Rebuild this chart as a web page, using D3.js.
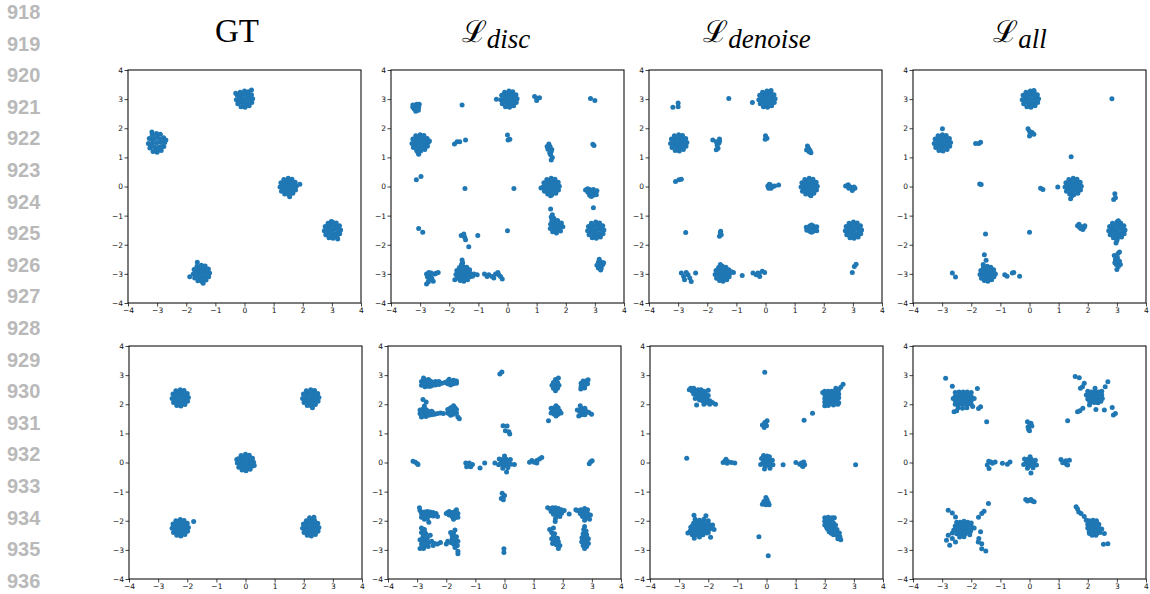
<!DOCTYPE html>
<html>
<head>
<meta charset="utf-8">
<script src="https://d3js.org/d3.v7.min.js"></script>
<style>
  body { margin: 0; background: #fff; }
  .ln { font-family: "Liberation Sans", Arial, sans-serif; font-weight: bold; font-size: 20px; fill: #b9b9b9; }
  .axis text { font-family: "DejaVu Sans", sans-serif; font-size: 7.5px; fill: #111; }
  .axis line { stroke: #111; stroke-width: 0.8; }
</style>
</head>
<body>
<script>
// margin line numbers
const lineNums = [918,919,920,921,922,923,924,925,926,927,928,929,930,931,932,933,934,935,936];
const ticks = [-4,-3,-2,-1,0,1,2,3,4];
const titleMain = ["GT", "\u2112", "\u2112", "\u2112"];
const titleSub = ["", "disc", "denoise", "all"];

// ---- top row: 5 modes ----
const gtTop = [
  [0,3],[0.14,3.02],[0.07,3.13],[-0.08,3.12],[-0.14,2.99],[-0.06,2.87],[0.08,2.88],[0.28,3.01],[0.24,3.15],[0.13,3.25],[0,3.28],[-0.15,3.24],[-0.25,3.13],[-0.28,2.98],[-0.23,2.84],[-0.12,2.74],[0.02,2.72],[0.16,2.77],[0.25,2.88],[0.24,3.31],[-0.3,3.2],
  [0.19,3.11],[0,3.21],[-0.19,3.11],[-0.19,2.89],[0,2.79],[0.19,2.89],
  [-3.02,1.5],[-2.88,1.52],[-2.95,1.65],[-3.1,1.64],[-3.16,1.49],[-3.08,1.35],[-2.94,1.36],[-2.74,1.51],[-2.78,1.67],[-2.89,1.79],[-3.02,1.82],[-3.17,1.78],[-3.27,1.65],[-3.3,1.48],[-3.25,1.32],[-3.14,1.2],[-3,1.18],[-2.86,1.24],[-2.77,1.37],[-3.18,1.87],[-2.7,1.6],
  [-2.83,1.63],[-3.02,1.74],[-3.21,1.63],[-3.21,1.37],[-3.02,1.26],[-2.83,1.37],
  [1.5,0],[1.64,0.02],[1.57,0.13],[1.42,0.12],[1.36,-0.01],[1.44,-0.13],[1.58,-0.12],[1.78,0.01],[1.74,0.15],[1.63,0.25],[1.5,0.28],[1.35,0.24],[1.25,0.13],[1.22,-0.02],[1.27,-0.16],[1.38,-0.26],[1.52,-0.28],[1.66,-0.23],[1.75,-0.12],[1.9,0.08],[1.55,-0.35],
  [1.69,0.11],[1.5,0.21],[1.31,0.11],[1.31,-0.11],[1.5,-0.21],[1.69,-0.11],
  [3.02,-1.5],[3.16,-1.48],[3.09,-1.37],[2.94,-1.38],[2.88,-1.51],[2.96,-1.63],[3.1,-1.62],[3.3,-1.49],[3.26,-1.35],[3.15,-1.25],[3.02,-1.22],[2.87,-1.26],[2.77,-1.37],[2.74,-1.52],[2.79,-1.66],[2.9,-1.76],[3.04,-1.78],[3.18,-1.73],[3.27,-1.62],[3.2,-1.8],[2.98,-1.2],
  [3.21,-1.39],[3.02,-1.29],[2.83,-1.39],[2.83,-1.61],[3.02,-1.71],[3.21,-1.61],
  [-1.48,-2.98],[-1.34,-2.96],[-1.41,-2.85],[-1.56,-2.86],[-1.62,-2.99],[-1.54,-3.11],[-1.4,-3.1],[-1.2,-2.97],[-1.24,-2.83],[-1.35,-2.73],[-1.48,-2.7],[-1.63,-2.74],[-1.73,-2.85],[-1.76,-3],[-1.71,-3.14],[-1.6,-3.24],[-1.46,-3.26],[-1.32,-3.21],[-1.23,-3.1],[-1.62,-2.6],[-1.88,-3.1],[-1.42,-3.32],
  [-1.29,-2.87],[-1.48,-2.77],[-1.67,-2.87],[-1.67,-3.09],[-1.48,-3.19],[-1.29,-3.09]
];

const discTop = [
  [-3.25,2.72],[-3.15,2.75],[-3.05,2.72],[-3.2,2.66],[-3.1,2.65],[-3.15,2.58],[-3.03,2.82],[-3.25,2.8],[-3.12,2.82],[-3.06,2.62],
  [-3,1.5],[-2.86,1.52],[-2.93,1.63],[-3.08,1.62],[-3.14,1.49],[-3.06,1.37],[-2.92,1.38],[-2.72,1.51],[-2.76,1.65],[-2.87,1.75],[-3,1.78],[-3.15,1.74],[-3.25,1.63],[-3.28,1.48],[-3.23,1.34],[-3.12,1.24],[-2.98,1.22],[-2.84,1.27],[-2.75,1.38],[-3.05,1.11],[-2.68,1.56],[-3.08,1.18],
  [-2.81,1.61],[-3,1.71],[-3.19,1.61],[-3.19,1.39],[-3,1.29],[-2.81,1.39],
  [-3.13,0.23],[-2.97,0.34],[-3.05,-1.44],[-2.91,-1.57],
  [-2.78,-3],[-2.75,-3.1],[-2.7,-3.2],[-2.78,-3.35],[-2.65,-3.05],[-2.6,-3.15],[-2.55,-3.25],[-2.5,-3],[-2.45,-2.98],[-2.38,-2.95],[-2.62,-2.97],[-2.7,-2.95],[-2.72,-3.28],
  [-1.82,1.46],[-1.73,1.54],[-1.64,1.54],[-1.44,1.6],[-1.56,2.8],[-1.46,-0.07],
  [-1.59,-1.68],[-1.5,-1.63],[-1.47,-1.74],[-1.44,-1.83],[-1.33,-2.07],[-1.02,-1.68],
  [-1.52,-3],[-1.39,-2.98],[-1.45,-2.88],[-1.59,-2.89],[-1.65,-3],[-1.57,-3.12],[-1.44,-3.11],[-1.27,-2.99],[-1.3,-2.86],[-1.4,-2.77],[-1.52,-2.75],[-1.65,-2.78],[-1.74,-2.88],[-1.77,-3.02],[-1.72,-3.15],[-1.62,-3.23],[-1.5,-3.25],[-1.37,-3.2],[-1.29,-3.1],[-1.56,-2.52],[-1.54,-2.62],[-1.58,-2.68],[-1.15,-3],[-1.04,-3.03],[-1.2,-3.08],[-1.81,-3.2],
  [-1.35,-2.9],[-1.52,-2.81],[-1.69,-2.9],[-1.69,-3.1],[-1.52,-3.19],[-1.35,-3.1],
  [-0.79,-3],[-0.64,-3.03],[-0.53,-3.09],[-0.41,-3],[-0.33,-2.95],[-0.24,-3.09],[-0.18,-3.18],[-0.47,-3.14],[-0.7,-3.09],[-0.3,-3.03],
  [0.05,3],[0.19,3.02],[0.12,3.13],[-0.03,3.12],[-0.09,2.99],[-0.01,2.87],[0.13,2.88],[0.33,3.01],[0.29,3.15],[0.18,3.25],[0.05,3.28],[-0.1,3.24],[-0.2,3.13],[-0.23,2.98],[-0.18,2.84],[-0.07,2.74],[0.07,2.72],[0.21,2.77],[0.3,2.88],[-0.38,3],
  [0.24,3.11],[0.05,3.21],[-0.14,3.11],[-0.14,2.89],[0.05,2.79],[0.24,2.89],
  [0.93,3.09],[1.02,3.03],[1.1,3.05],[1,2.95],
  [0,1.77],[0.02,1.6],[0.08,1.62],[0,-1.52],[0.22,-0.07],
  [1.42,1.46],[1.46,1.37],[1.39,1.28],[1.5,1.2],[1.48,1.09],[1.54,1],[1.5,0.91],[1.36,1.37],[1.45,1.15],[1.52,1.27],
  [1.5,0],[1.64,0.02],[1.57,0.13],[1.42,0.12],[1.36,-0.01],[1.44,-0.13],[1.58,-0.12],[1.78,0.01],[1.74,0.15],[1.63,0.25],[1.5,0.28],[1.35,0.24],[1.25,0.13],[1.22,-0.02],[1.27,-0.16],[1.38,-0.26],[1.52,-0.28],[1.66,-0.23],[1.75,-0.12],[1.15,-0.05],[1.48,-0.32],
  [1.69,0.11],[1.5,0.21],[1.31,0.11],[1.31,-0.11],[1.5,-0.21],[1.69,-0.11],
  [1.48,-0.77],
  [1.68,-1.38],[1.8,-1.37],[1.74,-1.27],[1.61,-1.28],[1.56,-1.39],[1.62,-1.49],[1.75,-1.48],[1.9,-1.38],[1.85,-1.25],[1.72,-1.17],[1.58,-1.2],[1.48,-1.3],[1.47,-1.44],[1.55,-1.55],[1.68,-1.6],[1.82,-1.53],[1.54,-0.97],[1.59,-1.09],[1.5,-1.05],[1.6,-1.15],[1.52,-1.18],
  [2.85,3.02],[3,2.95],[2.93,1.45],[2.97,1.41],
  [2.88,-0.2],[3,-0.2],[2.76,-0.2],[2.82,-0.1],[2.95,-0.1],[2.82,-0.3],[2.95,-0.3],[2.68,-0.12],[3.07,-0.15],[2.88,-0.34],[3.05,-0.28],[2.75,-0.08],
  [2.95,-0.73],
  [3.03,-1.5],[3.17,-1.48],[3.1,-1.37],[2.95,-1.38],[2.89,-1.51],[2.97,-1.63],[3.11,-1.62],[3.31,-1.49],[3.27,-1.35],[3.16,-1.25],[3.03,-1.22],[2.88,-1.26],[2.78,-1.37],[2.75,-1.52],[2.8,-1.66],[2.91,-1.76],[3.05,-1.78],[3.19,-1.73],[3.28,-1.62],
  [3.22,-1.39],[3.03,-1.29],[2.84,-1.39],[2.84,-1.61],[3.03,-1.71],[3.22,-1.61],
  [3.17,-2.7],[3.27,-2.68],[3.22,-2.6],[3.12,-2.6],[3.07,-2.7],[3.12,-2.8],[3.22,-2.8],[3.15,-2.5],[3.2,-2.87],[3.3,-2.62]
];

const denoiseTop = [
  [-3.18,2.72],[-3,2.87],[-3,2.74],
  [-2.98,1.5],[-2.84,1.52],[-2.91,1.63],[-3.06,1.62],[-3.12,1.49],[-3.04,1.37],[-2.9,1.38],[-2.7,1.51],[-2.74,1.65],[-2.85,1.75],[-2.98,1.78],[-3.13,1.74],[-3.23,1.63],[-3.26,1.48],[-3.21,1.34],[-3.1,1.24],[-2.96,1.22],[-2.82,1.27],[-2.73,1.38],
  [-2.79,1.61],[-2.98,1.71],[-3.17,1.61],[-3.17,1.39],[-2.98,1.29],[-2.79,1.39],
  [-3.09,0.17],[-2.97,0.23],[-2.89,0.25],[-2.74,-1.58],
  [-1.81,1.6],[-1.69,1.54],[-1.63,1.31],[-1.69,1.26],[-1.58,1.63],[-1.6,1.49],[-1.66,1.42],[-1.58,1.55],
  [-1.54,-1.54],[-1.52,-1.66],[-1.58,-1.71],[-1.55,-1.6],
  [-2.89,-2.97],[-2.81,-3.09],[-2.66,-3.03],[-2.78,-3.2],[-2.6,-3.14],[-2.55,-3.26],[-2.4,-2.97],[-2.72,-2.95],
  [-1.48,-3],[-1.35,-2.98],[-1.41,-2.88],[-1.55,-2.89],[-1.61,-3],[-1.53,-3.12],[-1.4,-3.11],[-1.23,-2.99],[-1.26,-2.86],[-1.36,-2.77],[-1.48,-2.74],[-1.61,-2.78],[-1.7,-2.88],[-1.73,-3.02],[-1.68,-3.15],[-1.58,-3.23],[-1.46,-3.25],[-1.33,-3.2],[-1.25,-3.1],[-1.1,-2.95],[-1.17,-2.93],[-1.55,-2.68],
  [-1.31,-2.9],[-1.48,-2.81],[-1.65,-2.9],[-1.65,-3.1],[-1.48,-3.19],[-1.31,-3.1],
  [-0.8,-3.06],[-1.26,3.02],[-0.45,2.88],
  [0.05,3],[0.19,3.02],[0.12,3.13],[-0.03,3.12],[-0.09,2.99],[-0.01,2.87],[0.13,2.88],[0.33,3.01],[0.29,3.15],[0.18,3.25],[0.05,3.28],[-0.1,3.24],[-0.2,3.13],[-0.23,2.98],[-0.18,2.84],[-0.07,2.74],[0.07,2.72],[0.21,2.77],[0.3,2.88],[0.19,3.3],
  [0.24,3.11],[0.05,3.21],[-0.14,3.11],[-0.14,2.89],[0.05,2.79],[0.24,2.89],
  [0,1.74],[0.05,1.66],[-0.01,1.62],
  [0.08,0.02],[0.16,0.06],[0.25,0],[0.19,-0.06],[0.11,-0.06],[0.31,0.02],[0.45,0.05],[0.13,0.08],[0.2,0.02],
  [-0.43,-2.97],[-0.32,-3.03],[-0.26,-2.97],[-0.2,-3.09],[-0.11,-2.91],[-0.03,-2.95],[-0.22,-3],
  [1.44,1.39],[1.41,1.25],[1.5,1.19],[1.56,1.16],[1.48,1.31],[1.53,1.24],
  [1.5,0],[1.64,0.02],[1.57,0.13],[1.42,0.12],[1.36,-0.01],[1.44,-0.13],[1.58,-0.12],[1.78,0.01],[1.74,0.15],[1.63,0.25],[1.5,0.28],[1.35,0.24],[1.25,0.13],[1.22,-0.02],[1.27,-0.16],[1.38,-0.26],[1.52,-0.28],[1.66,-0.23],[1.75,-0.12],[1.56,-0.32],
  [1.69,0.11],[1.5,0.21],[1.31,0.11],[1.31,-0.11],[1.5,-0.21],[1.69,-0.11],
  [1.58,-1.45],[1.7,-1.45],[1.46,-1.45],[1.52,-1.36],[1.64,-1.36],[1.52,-1.54],[1.64,-1.54],[1.76,-1.38],[1.4,-1.4],[1.76,-1.52],[1.58,-1.32],[1.58,-1.57],[1.42,-1.5],
  [2.75,0.02],[2.84,0.06],[2.92,-0.02],[3,-0.09],[3.07,-0.06],[2.98,-0.14],[2.86,-0.06],[3.04,-0.02],
  [3.02,-1.5],[3.16,-1.48],[3.09,-1.37],[2.94,-1.38],[2.88,-1.51],[2.96,-1.63],[3.1,-1.62],[3.3,-1.49],[3.26,-1.35],[3.15,-1.25],[3.02,-1.22],[2.87,-1.26],[2.77,-1.37],[2.74,-1.52],[2.79,-1.66],[2.9,-1.76],[3.04,-1.78],[3.18,-1.73],[3.27,-1.62],
  [3.21,-1.39],[3.02,-1.29],[2.83,-1.39],[2.83,-1.61],[3.02,-1.71],[3.21,-1.61],
  [2.98,-2.95],[3.05,-2.75],[3.11,-2.67]
];

const allTop = [
  [-2.99,1.98],
  [-2.99,1.5],[-2.85,1.52],[-2.92,1.63],[-3.07,1.62],[-3.13,1.49],[-3.05,1.37],[-2.91,1.38],[-2.71,1.51],[-2.75,1.65],[-2.86,1.75],[-2.99,1.78],[-3.14,1.74],[-3.24,1.63],[-3.27,1.48],[-3.22,1.34],[-3.11,1.24],[-2.97,1.22],[-2.83,1.27],[-2.74,1.38],
  [-2.8,1.61],[-2.99,1.71],[-3.18,1.61],[-3.18,1.39],[-2.99,1.29],[-2.8,1.39],
  [-1.85,1.48],[-1.68,1.52],[-1.74,1.48],[-1.71,0.09],[-1.66,0.07],[-1.51,-1.63],
  [-1.45,-3],[-1.32,-2.98],[-1.38,-2.88],[-1.52,-2.89],[-1.58,-3],[-1.5,-3.12],[-1.37,-3.11],[-1.2,-2.99],[-1.23,-2.86],[-1.33,-2.77],[-1.45,-2.74],[-1.58,-2.78],[-1.67,-2.88],[-1.7,-3.02],[-1.65,-3.15],[-1.55,-3.23],[-1.43,-3.25],[-1.3,-3.2],[-1.22,-3.1],[-1.55,-2.34],[-1.49,-2.53],[-1.59,-2.68],[-1.17,-3],
  [-1.28,-2.9],[-1.45,-2.81],[-1.62,-2.9],[-1.62,-3.1],[-1.45,-3.19],[-1.28,-3.1],
  [-2.65,-2.97],[-2.54,-3.11],
  [-0.85,-3.03],[-0.77,-3.08],[-0.59,-2.97],[-0.54,-2.95],[-0.34,-3.08],
  [0.03,3],[0.17,3.02],[0.1,3.13],[-0.05,3.12],[-0.11,2.99],[-0.03,2.87],[0.11,2.88],[0.31,3.01],[0.27,3.15],[0.16,3.25],[0.03,3.28],[-0.12,3.24],[-0.22,3.13],[-0.25,2.98],[-0.2,2.84],[-0.09,2.74],[0.05,2.72],[0.19,2.77],[0.28,2.88],[0.15,3.3],
  [0.22,3.11],[0.03,3.21],[-0.16,3.11],[-0.16,2.89],[0.03,2.79],[0.22,2.89],
  [-0.05,1.98],[0,1.9],[0.03,1.79],[0.09,1.85],[0.15,1.79],[0,1.73],
  [0,-1.57],[0.38,-0.06],[0.46,-0.1],[0.97,-0.02],[1.43,1.02],
  [1.5,0],[1.64,0.02],[1.57,0.13],[1.42,0.12],[1.36,-0.01],[1.44,-0.13],[1.58,-0.12],[1.78,0.01],[1.74,0.15],[1.63,0.25],[1.5,0.28],[1.35,0.24],[1.25,0.13],[1.22,-0.02],[1.27,-0.16],[1.38,-0.26],[1.52,-0.28],[1.66,-0.23],[1.75,-0.12],[1.41,-0.42],[1.45,-0.33],
  [1.69,0.11],[1.5,0.21],[1.31,0.11],[1.31,-0.11],[1.5,-0.21],[1.69,-0.11],
  [1.65,-1.35],[1.72,-1.4],[1.8,-1.38],[1.88,-1.4],[1.83,-1.48],[1.7,-1.3],[1.9,-1.35],[1.76,-1.44],
  [2.83,3.01],[2.93,-0.25],[2.89,-0.45],[2.95,-0.39],
  [3,-1.5],[3.14,-1.48],[3.07,-1.37],[2.92,-1.38],[2.86,-1.51],[2.94,-1.63],[3.08,-1.62],[3.28,-1.49],[3.24,-1.35],[3.13,-1.25],[3,-1.22],[2.85,-1.26],[2.75,-1.37],[2.72,-1.52],[2.77,-1.66],[2.88,-1.76],[3.02,-1.78],[3.16,-1.73],[3.25,-1.62],[2.97,-1.94],[3,-1.85],[3.05,-1.18],
  [3.19,-1.39],[3,-1.29],[2.81,-1.39],[2.81,-1.61],[3,-1.71],[3.19,-1.61],
  [2.91,-2.37],[3.04,-2.3],[3.09,-2.25],[2.95,-2.51],[3.06,-2.62],[2.98,-2.68],[3.12,-2.68],[3,-2.85],[2.93,-2.62],[3.09,-2.57],[3.02,-2.45],[3.05,-2.75]
];

// ---- bottom row: square + centre ----
const gtBot = [
  [-2.24,2.22],[-2.1,2.24],[-2.17,2.35],[-2.32,2.34],[-2.38,2.21],[-2.3,2.09],[-2.16,2.1],[-1.96,2.23],[-2,2.37],[-2.11,2.47],[-2.24,2.5],[-2.39,2.46],[-2.49,2.35],[-2.52,2.2],[-2.47,2.06],[-2.36,1.96],[-2.22,1.94],[-2.08,1.99],[-1.99,2.1],
  [-2.05,2.33],[-2.24,2.43],[-2.43,2.33],[-2.43,2.11],[-2.24,2.01],[-2.05,2.11],
  [2.24,2.22],[2.38,2.24],[2.31,2.35],[2.16,2.34],[2.1,2.21],[2.18,2.09],[2.32,2.1],[2.52,2.23],[2.48,2.37],[2.37,2.47],[2.24,2.5],[2.09,2.46],[1.99,2.35],[1.96,2.2],[2.01,2.06],[2.12,1.96],[2.26,1.94],[2.4,1.99],[2.49,2.1],[2.3,1.88],
  [2.43,2.33],[2.24,2.43],[2.05,2.33],[2.05,2.11],[2.24,2.01],[2.43,2.11],
  [0,0],[0.14,0.02],[0.07,0.13],[-0.08,0.12],[-0.14,-0.01],[-0.06,-0.13],[0.08,-0.12],[0.28,0.01],[0.24,0.15],[0.13,0.25],[0,0.28],[-0.15,0.24],[-0.25,0.13],[-0.28,-0.02],[-0.23,-0.16],[-0.12,-0.26],[0.02,-0.28],[0.16,-0.23],[0.25,-0.12],[-0.3,0.1],[0.3,-0.1],
  [0.19,0.11],[0,0.21],[-0.19,0.11],[-0.19,-0.11],[0,-0.21],[0.19,-0.11],
  [-2.24,-2.24],[-2.1,-2.22],[-2.17,-2.11],[-2.32,-2.12],[-2.38,-2.25],[-2.3,-2.37],[-2.16,-2.36],[-1.96,-2.23],[-2,-2.09],[-2.11,-1.99],[-2.24,-1.96],[-2.39,-2],[-2.49,-2.11],[-2.52,-2.26],[-2.47,-2.4],[-2.36,-2.5],[-2.22,-2.52],[-2.08,-2.47],[-1.99,-2.36],[-1.78,-2.03],
  [-2.05,-2.13],[-2.24,-2.03],[-2.43,-2.13],[-2.43,-2.35],[-2.24,-2.45],[-2.05,-2.35],
  [2.24,-2.24],[2.38,-2.22],[2.31,-2.11],[2.16,-2.12],[2.1,-2.25],[2.18,-2.37],[2.32,-2.36],[2.52,-2.23],[2.48,-2.09],[2.37,-1.99],[2.24,-1.96],[2.09,-2],[1.99,-2.11],[1.96,-2.26],[2.01,-2.4],[2.12,-2.5],[2.26,-2.52],[2.4,-2.47],[2.49,-2.36],[2.35,-1.88],[2.2,-1.9],
  [2.43,-2.13],[2.24,-2.03],[2.05,-2.13],[2.05,-2.35],[2.24,-2.45],[2.43,-2.35]
];

const discBot = [
  [-2.85,2.65],[-2.85,2.78],[-2.73,2.6],[-2.73,2.72],[-2.73,2.84],[-2.61,2.62],[-2.61,2.74],[-2.61,2.85],[-2.49,2.64],[-2.49,2.76],[-2.37,2.66],[-2.37,2.78],[-2.25,2.68],[-2.25,2.78],[-2.78,2.9],[-2.55,2.7],
  [-2.79,2.72],[-2.67,2.67],[-2.67,2.79],[-2.55,2.62],[-2.55,2.8],[-2.43,2.71],[-2.31,2.72],
  [-2.15,2.72],[-2.05,2.75],
  [-1.95,2.7],[-1.95,2.8],[-1.85,2.66],[-1.85,2.78],[-1.75,2.7],[-1.75,2.82],[-1.65,2.72],[-1.65,2.8],[-1.9,2.86],
  [-1.9,2.73],[-1.8,2.74],[-1.7,2.76],
  [-2.9,1.68],[-2.9,1.8],[-2.8,1.6],[-2.8,1.72],[-2.8,1.84],[-2.7,1.58],[-2.7,1.7],[-2.7,1.82],[-2.6,1.62],[-2.6,1.74],[-2.5,1.64],[-2.5,1.76],[-2.4,1.66],[-2.3,1.68],[-2.75,1.94],[-2.85,1.56],
  [-2.85,1.74],[-2.75,1.66],[-2.75,1.78],[-2.65,1.66],[-2.65,1.78],[-2.55,1.69],[-2.45,1.71],[-2.85,1.62],
  [-2.2,1.7],[-2.1,1.68],
  [-1.95,1.7],[-1.95,1.82],[-1.85,1.62],[-1.85,1.74],[-1.85,1.88],[-1.75,1.66],[-1.75,1.78],[-1.75,1.95],[-1.65,1.7],[-1.65,1.82],[-1.6,1.56],[-1.55,1.5],
  [-1.9,1.68],[-1.9,1.8],[-1.8,1.7],[-1.8,1.82],[-1.7,1.74],[-1.7,1.88],
  [-2.8,2.16],[-2.69,2.08],
  [1.75,2.65],[1.68,2.55],[1.82,2.55],[1.68,2.75],[1.82,2.75],[1.75,2.85],[1.75,2.46],[1.63,2.65],[1.87,2.65],[1.85,2.9],[1.75,2.55],[1.75,2.75],
  [2.73,2.68],[2.63,2.6],[2.63,2.72],[2.75,2.56],[2.85,2.7],[2.8,2.8],[2.87,2.84],[2.7,2.8],[2.62,2.52],[2.68,2.66],[2.78,2.68],
  [1.77,1.77],[1.65,1.76],[1.89,1.78],[1.71,1.88],[1.84,1.88],[1.71,1.66],[1.84,1.66],[1.6,1.7],[1.94,1.7],[1.77,1.95],[1.77,1.6],[1.6,1.86],[1.51,1.43],[1.71,1.77],[1.83,1.77],
  [2.7,1.75],[2.58,1.75],[2.82,1.75],[2.64,1.86],[2.76,1.86],[2.64,1.64],[2.76,1.64],[2.5,1.8],[2.9,1.72],[2.6,1.95],[2.99,1.66],[2.55,1.6],[2.64,1.75],[2.76,1.75],
  [-0.16,3.04],[-0.09,3.11],[-0.05,1.26],[0.09,1.25],[0.03,1.09],[0.15,1.06],[0.18,0.98],
  [-3.14,0.04],[-3.06,0.01],[-2.99,-0.04],[-2.97,-0.07],
  [-1.33,-0.02],[-1.27,-0.11],[-1.21,-0.02],[-1.16,-0.15],[-1.3,-0.15],[-1.1,-0.07],[-0.84,-0.19],[-0.68,-0.02],[-0.33,-0.02],
  [0,0],[0.12,0.01],[0.06,0.11],[-0.07,0.1],[-0.12,-0.01],[-0.05,-0.11],[0.07,-0.1],[0.2,0.1],[0.22,-0.06],[0,0.22],[-0.18,0.12],[-0.2,-0.08],[-0.06,-0.2],[0.12,-0.18],[0.34,-0.07],[0.07,-0.33],
  [0.86,0.01],[0.94,0.07],[1.02,0.01],[1.11,0.07],[1.2,0.12],[1.28,0.17],[1.11,-0.02],
  [2.91,-0.04],[2.96,0.03],[3.01,0.06],
  [-0.08,-1.06],[-0.05,-1.2],[-0.11,-1.24],[0,-1.13],[-0.04,-1.28],[-0.02,-2.96],[-0.02,-3.09],
  [-2.9,-1.65],[-2.85,-1.75],[-2.85,-1.88],[-2.75,-1.7],[-2.75,-1.82],[-2.75,-1.95],[-2.65,-1.68],[-2.65,-1.8],[-2.65,-1.92],[-2.55,-1.7],[-2.55,-1.82],[-2.45,-1.72],[-2.45,-1.84],[-2.35,-1.75],[-2.3,-1.85],[-2.92,-1.55],[-2.6,-2.05],
  [-2.8,-1.72],[-2.8,-1.85],[-2.7,-1.76],[-2.7,-1.88],[-2.6,-1.75],[-2.5,-1.77],[-2.4,-1.79],
  [-2,-1.75],[-1.9,-1.68],[-1.9,-1.8],[-1.8,-1.72],[-1.8,-1.85],[-1.7,-1.68],[-1.7,-1.8],[-1.6,-1.75],[-1.6,-1.88],[-1.75,-1.95],[-1.65,-1.62],
  [-1.95,-1.72],[-1.85,-1.76],[-1.75,-1.76],[-1.65,-1.8],[-1.7,-1.9],
  [-2.85,-2.25],[-2.75,-2.3],[-2.85,-2.4],[-2.7,-2.45],[-2.8,-2.55],[-2.65,-2.6],[-2.9,-2.65],[-2.75,-2.7],[-2.6,-2.75],[-2.85,-2.8],[-2.7,-2.85],[-2.55,-2.5],[-2.9,-2.95],[-2.78,-2.95],[-2.62,-2.88],[-2.5,-2.7],
  [-2.8,-2.3],[-2.78,-2.47],[-2.72,-2.62],[-2.82,-2.68],[-2.68,-2.75],[-2.8,-2.88],[-2.75,-2.38],
  [-2.4,-2.78],[-2.3,-2.8],[-2.2,-2.75],[-2.45,-2.85],
  [-1.85,-2.4],[-1.75,-2.5],[-1.65,-2.55],[-1.8,-2.62],[-1.7,-2.68],[-1.6,-2.7],[-1.85,-2.75],[-1.75,-2.8],[-1.62,-2.85],[-1.95,-2.7],[-1.7,-2.92],[-1.6,-3.05],[-1.6,-3.13],[-2,-2.8],[-1.7,-2.32],
  [-1.8,-2.5],[-1.72,-2.6],[-1.78,-2.72],[-1.68,-2.8],[-1.75,-2.4],
  [1.55,-1.58],[1.65,-1.55],[1.75,-1.55],[1.85,-1.58],[1.95,-1.62],[2.05,-1.65],[1.6,-1.68],[1.72,-1.66],[1.85,-1.7],[1.96,-1.74],[1.68,-1.78],[1.8,-1.8],[1.9,-1.85],[1.75,-1.92],[1.74,-2.03],[1.48,-1.55],
  [1.7,-1.62],[1.8,-1.62],[1.9,-1.66],[1.75,-1.72],[1.85,-1.78],
  [2.5,-1.65],[2.62,-1.62],[2.75,-1.58],[2.85,-1.62],[2.6,-1.75],[2.72,-1.72],[2.85,-1.75],[2.95,-1.8],[2.68,-1.85],[2.8,-1.88],[2.75,-1.98],[2.92,-1.95],[2.45,-1.62],
  [2.65,-1.68],[2.78,-1.66],[2.66,-1.8],[2.78,-1.8],[2.88,-1.85],
  [1.68,-2.25],[1.62,-2.4],[1.72,-2.45],[1.7,-2.57],[1.82,-2.6],[1.62,-2.62],[1.72,-2.7],[1.85,-2.72],[1.65,-2.78],[1.78,-2.82],[1.9,-2.85],[1.85,-2.95],[1.55,-2.3],
  [1.68,-2.5],[1.76,-2.64],[1.68,-2.72],[1.8,-2.76],
  [2.75,-2.2],[2.72,-2.3],[2.8,-2.35],[2.7,-2.45],[2.82,-2.48],[2.66,-2.58],[2.78,-2.6],[2.88,-2.62],[2.65,-2.72],[2.77,-2.74],[2.88,-2.78],[2.7,-2.85],[2.82,-2.88],[2.75,-2.95],
  [2.76,-2.4],[2.72,-2.52],[2.82,-2.55],[2.72,-2.68],[2.82,-2.7],[2.77,-2.82],
  [2.22,-1.77]
];

const denoiseBot = [
  [-2.6,2.55],[-2.5,2.55],[-2.55,2.45],[-2.45,2.45],[-2.35,2.5],[-2.25,2.5],[-2.15,2.45],[-2.4,2.35],[-2.3,2.38],[-2.2,2.35],[-2.1,2.38],[-2,2.3],[-2.35,2.25],[-2.25,2.25],[-2.15,2.25],[-2.05,2.2],[-2.3,2.15],[-2.2,2.12],[-2.1,2.1],[-1.95,2.12],[-1.85,2.05],[-1.95,2],[-2.15,2],[-1.75,2],[-2.45,2.2],[-2.4,1.97],[-2.65,2.5],[-2.5,2.35],[-2,2.48],
  [-2.52,2.5],[-2.4,2.42],[-2.3,2.44],[-2.2,2.42],[-2.35,2.3],[-2.25,2.31],[-2.15,2.31],[-2.05,2.28],[-2.25,2.19],[-2.15,2.18],[-2.05,2.14],[-1.9,2.08],[-2.4,2.28],[-2.05,2.05],
  [2,2.45],[2.12,2.45],[2.24,2.45],[2.36,2.45],[2.48,2.5],[2,2.33],[2.12,2.33],[2.24,2.33],[2.36,2.33],[2.48,2.35],[2,2.2],[2.12,2.2],[2.24,2.2],[2.36,2.2],[2.48,2.22],[2,2.08],[2.12,2.08],[2.24,2.08],[2.36,2.08],[2.48,2.05],[2,1.95],[2.12,1.96],[2.3,1.97],[2.45,2],[1.93,2.4],[2.55,2.58],[2.63,2.69],[2.38,2.55],
  [2.06,2.39],[2.18,2.39],[2.3,2.39],[2.42,2.39],[2.06,2.27],[2.18,2.27],[2.3,2.27],[2.42,2.27],[2.06,2.14],[2.18,2.14],[2.3,2.14],[2.42,2.14],[2.06,2.02],[2.18,2.02],[2.3,2.02],[2.42,2.02],
  [1.29,1.45],[1.58,1.69],[-0.06,3.1],
  [-0.06,1.37],[-0.14,1.29],[0,1.26],[-0.08,1.2],[0.02,1.43],[-0.03,1.32],
  [-2.74,0.15],
  [-1.49,0],[-1.39,0.11],[-1.31,0.03],[-1.2,0],[-1.35,-0.03],[-1.09,-0.02],[-1.42,0.06],
  [0,0],[0.12,0.01],[0.06,0.11],[-0.07,0.1],[-0.12,-0.01],[-0.05,-0.11],[0.07,-0.1],[0.2,0.08],[0.22,-0.08],[0.02,0.22],[-0.17,0.14],[-0.2,-0.07],[-0.07,-0.22],[0.12,-0.2],[0.1,0.2],[-0.1,0.24],
  [0.57,-0.08],
  [1.01,0],[1.14,-0.06],[1.23,-0.11],[1.28,0.02],[1.2,-0.02],[1.31,-0.08],[1.25,-0.14],
  [3.06,-0.08],
  [-0.02,-1.2],[-0.09,-1.34],[0.06,-1.37],[-0.02,-1.45],[-0.14,-1.43],[0.09,-1.45],[-0.03,-1.32],[0.02,-1.28],
  [-2.45,-1.95],[-2.3,-1.98],[-2.15,-1.95],[-2,-2],[-2.5,-2.08],[-2.38,-2.1],[-2.25,-2.1],[-2.12,-2.1],[-1.98,-2.12],[-1.85,-2.15],[-2.6,-2.22],[-2.48,-2.22],[-2.35,-2.22],[-2.22,-2.22],[-2.1,-2.24],[-1.95,-2.28],[-1.8,-2.3],[-2.62,-2.35],[-2.5,-2.35],[-2.38,-2.36],[-2.25,-2.36],[-2.12,-2.38],[-2,-2.4],[-2.55,-2.48],[-2.42,-2.48],[-2.3,-2.46],[-2.18,-2.48],[-2.7,-2.42],[-2.48,-2.6],[-2.49,-1.81],[-2.08,-1.83],[-1.92,-2.57],[-2.3,-2.56],
  [-2.54,-2.16],[-2.42,-2.16],[-2.29,-2.16],[-2.16,-2.16],[-2.04,-2.16],[-2.54,-2.29],[-2.42,-2.29],[-2.29,-2.29],[-2.16,-2.29],[-2.04,-2.29],[-2.54,-2.42],[-2.42,-2.42],[-2.29,-2.42],[-2.16,-2.42],[-2.04,-2.42],[-2.31,-2.04],[-2.18,-2.04],[-2.44,-2.04],[-1.9,-2.22],
  [-0.26,-2.55],[0.06,-3.2],
  [2,-1.9],[2.12,-1.88],[2.25,-1.9],[2,-2.02],[2.12,-2.02],[2.25,-2.02],[2,-2.15],[2.12,-2.14],[2.25,-2.14],[2.37,-2.15],[2.08,-2.27],[2.2,-2.26],[2.32,-2.26],[2.42,-2.3],[2.15,-2.38],[2.28,-2.38],[2.4,-2.4],[2.5,-2.42],[2.3,-2.48],[2.42,-2.5],[2.52,-2.55],[2.45,-2.62],[2.55,-2.65],[2.35,-2.35],[2.33,-1.9],
  [2.06,-1.96],[2.18,-1.96],[2.06,-2.08],[2.18,-2.08],[2.3,-2.08],[2.06,-2.21],[2.18,-2.2],[2.3,-2.2],[2.14,-2.32],[2.26,-2.32],[2.38,-2.33],[2.22,-2.43],[2.35,-2.44],[2.47,-2.47],[2.48,-2.58]
];

const allBot = [
  [-2.55,2.4],[-2.42,2.42],[-2.28,2.42],[-2.14,2.42],[-2,2.4],[-2.55,2.27],[-2.42,2.28],[-2.28,2.28],[-2.14,2.28],[-2,2.27],[-2.55,2.13],[-2.42,2.14],[-2.28,2.14],[-2.14,2.14],[-2,2.13],[-1.9,2.2],[-2.55,2],[-2.42,2],[-2.28,2],[-2.14,2],[-2,2],[-2.45,1.88],[-2.3,1.86],[-2.15,1.88],[-1.95,1.92],[-2.62,2.2],
  [-2.49,2.34],[-2.35,2.34],[-2.21,2.34],[-2.07,2.34],[-2.49,2.2],[-2.35,2.2],[-2.21,2.2],[-2.07,2.2],[-2.49,2.07],[-2.35,2.07],[-2.21,2.07],[-2.07,2.07],
  [-2.88,2.89],[-2.65,2.62],[-1.79,2.54],[-1.68,1.91],[-2.59,1.74],[-1.47,1.4],[-1.75,1.85],[-2.5,1.78],
  [2,2.45],[2.12,2.42],[2.25,2.45],[2.38,2.42],[2.48,2.45],[1.95,2.32],[2.08,2.3],[2.22,2.32],[2.35,2.3],[2.48,2.32],[2,2.18],[2.12,2.18],[2.25,2.18],[2.38,2.18],[2.5,2.2],[2.08,2.06],[2.22,2.06],[2.35,2.05],[2.45,2.1],[2.25,2.55],
  [2.06,2.38],[2.18,2.38],[2.31,2.38],[2.43,2.38],[2.06,2.25],[2.18,2.25],[2.31,2.25],[2.43,2.25],[2.06,2.12],[2.18,2.12],[2.31,2.12],[2.43,2.12],
  [1.57,2.95],[1.71,2.91],[1.88,2.72],[1.82,2.6],[2.69,2.77],[2.6,2.6],[1.65,1.74],[1.73,1.78],[1.83,1.86],[2.06,1.97],[2.28,1.82],[2.57,1.8],[2.84,1.89],[2.88,1.63],[2.95,1.68],[1.31,1.43],[1.75,2.55],
  [-0.07,1.4],[0.01,1.28],[-0.03,1.13],[0.08,1.25],[0,1.09],[0.05,1.35],[-0.05,1.22],
  [-1.45,-0.09],[-1.33,0.02],[-1.18,0.02],[-1.39,-0.21],[-1.27,-0.03],[-1.4,0.04],[-0.93,-0.03],[-0.76,-0.06],[-0.67,0.02],
  [0,0],[0.12,0.01],[0.06,0.11],[-0.07,0.1],[-0.12,-0.01],[-0.05,-0.11],[0.07,-0.1],[0.2,0.08],[0.2,-0.08],[0.02,0.2],[-0.17,0.12],[-0.2,-0.07],[-0.07,-0.2],[0.12,-0.18],[0.05,-0.36],[0.24,-0.09],
  [1.08,0.1],[1.19,0.02],[1.27,-0.06],[1.37,0.08],[1.31,-0.09],[1.14,-0.01],[1.25,0.06],
  [-0.13,-1.27],[-0.01,-1.3],[0.1,-1.32],[0.16,-1.35],[-0.07,-1.32],[0.05,-1.27],
  [-2.5,-2.05],[-2.38,-2.05],[-2.25,-2.02],[-2.12,-2.05],[-2,-2.08],[-2.55,-2.18],[-2.42,-2.18],[-2.28,-2.18],[-2.14,-2.18],[-2,-2.2],[-1.9,-2.25],[-2.6,-2.32],[-2.45,-2.32],[-2.3,-2.32],[-2.15,-2.32],[-2.02,-2.35],[-2.5,-2.45],[-2.35,-2.45],[-2.2,-2.45],[-2.05,-2.48],[-2.4,-2.56],[-2.25,-2.55],[-2.65,-2.42],
  [-2.48,-2.12],[-2.35,-2.12],[-2.21,-2.12],[-2.07,-2.12],[-2.48,-2.25],[-2.35,-2.25],[-2.21,-2.25],[-2.07,-2.25],[-2.48,-2.38],[-2.35,-2.38],[-2.21,-2.38],[-2.07,-2.38],
  [-2.79,-1.64],[-2.65,-1.73],[-2.54,-1.87],[-1.64,-1.75],[-1.56,-1.67],[-1.41,-1.41],[-1.75,-1.88],[-1.68,-2.38],[-1.74,-2.61],[-1.64,-2.79],[-1.76,-2.73],[-1.64,-2.96],[-1.5,-3.04],[-2.85,-2.67],[-2.74,-2.84],[-2.54,-2.73],[-2.79,-2.5],[-2.65,-2.61],
  [2.05,-2],[2.18,-1.98],[2.3,-2],[2,-2.12],[2.12,-2.12],[2.25,-2.12],[2.38,-2.12],[2,-2.25],[2.12,-2.25],[2.25,-2.25],[2.38,-2.25],[2.48,-2.28],[2.05,-2.38],[2.18,-2.38],[2.3,-2.38],[2.42,-2.4],[2.15,-2.5],[2.28,-2.5],[1.95,-1.98],
  [2.06,-2.06],[2.18,-2.06],[2.31,-2.06],[2.06,-2.18],[2.18,-2.18],[2.31,-2.18],[2.06,-2.31],[2.18,-2.31],[2.31,-2.31],[2.06,-2.44],[2.18,-2.44],[2.31,-2.44],
  [1.6,-1.52],[1.69,-1.7],[1.77,-1.75],[1.88,-1.85],[1.65,-1.6],[2.57,-2.44],[2.54,-2.81],[2.69,-2.79]
];

const topRow = [gtTop, discTop, denoiseTop, allTop];
const botRow = [gtBot, discBot, denoiseBot, allBot];

// layout
const W = 1150, H = 594, S = 233;
const topLefts = [128, 391, 649, 913], topY = 70;
const botLefts = [129, 388, 650, 913], botY = 346;
const titleX = [237, 496, 757, 1020], titleY = 42;

const svg = d3.select("body").append("svg")
  .attr("width", W).attr("height", H)
  .style("background", "#fff");

svg.selectAll("text.ln")
  .data(lineNums)
  .join("text")
  .attr("class", "ln")
  .attr("x", 7)
  .attr("y", (d, i) => 19 + 31.6 * i)
  .text(d => d);

// titles: script L with italic subscript
const titles = titleMain.map((m, i) => ({ main: m, sub: titleSub[i], x: titleX[i], gt: i === 0 }));

const tt = svg.selectAll("text.title")
  .data(titles)
  .join("text")
  .attr("class", "title")
  .attr("x", d => d.x)
  .attr("y", titleY)
  .attr("text-anchor", "middle")
  .attr("fill", "#000");

tt.append("tspan")
  .attr("font-family", d => d.gt ? "Liberation Serif, serif" : "DejaVu Serif, serif")
  .attr("font-size", d => d.gt ? 33 : 30)
  .text(d => d.main);

tt.filter(d => d.sub !== "")
  .append("tspan")
  .attr("font-family", "Liberation Serif, serif")
  .attr("font-style", "italic")
  .attr("font-size", 27)
  .attr("dy", 6)
  .text(d => d.sub);

function panel(data, left, top) {
  const x = d3.scaleLinear().domain([-4, 4]).range([left, left + S]);
  const y = d3.scaleLinear().domain([-4, 4]).range([top + S, top]);
  const g = svg.append("g");

  g.append("g")
    .attr("class", "axis")
    .attr("transform", `translate(0,${top + S})`)
    .call(d3.axisBottom(x).tickValues(ticks).tickSize(3.5).tickPadding(1.5))
    .call(a => a.select(".domain").remove())
    .attr("font-size", null).attr("font-family", null);

  g.append("g")
    .attr("class", "axis")
    .attr("transform", `translate(${left},0)`)
    .call(d3.axisLeft(y).tickValues(ticks).tickSize(3.5).tickPadding(1.5))
    .call(a => a.select(".domain").remove())
    .attr("font-size", null).attr("font-family", null);

  g.append("g")
    .selectAll("circle")
    .data(data)
    .join("circle")
    .attr("cx", d => x(d[0]))
    .attr("cy", d => y(d[1]))
    .attr("r", 2.5)
    .attr("fill", "#1f77b4");

  g.append("rect")
    .attr("x", left).attr("y", top)
    .attr("width", S).attr("height", S)
    .attr("fill", "none")
    .attr("stroke", "#111")
    .attr("stroke-width", 1.1);
}

topRow.forEach((d, i) => panel(d, topLefts[i], topY));
botRow.forEach((d, i) => panel(d, botLefts[i], botY));
</script>
</body>
</html>
